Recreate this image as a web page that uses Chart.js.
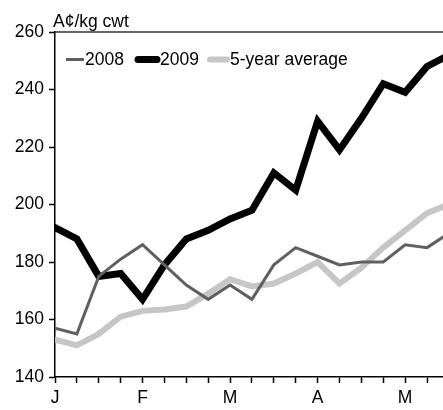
<!DOCTYPE html>
<html lang="en">
<head>
    <meta charset="UTF-8">
    <title>Cattle prices</title>
    <script src="https://cdn.jsdelivr.net/npm/chart.js@4/dist/chart.umd.min.js"></script>
    <style>
        body {
            margin: 0;
            padding: 0;
            background-color: #fff;
        }

        .chart-container {
            width: 443px;
            height: 410px;
            position: relative;
        }
    </style>
</head>
<body>

    <div class="chart-container">
        <canvas id="priceChart"></canvas>
    </div>

    <script>
        // weekly prices, first week of January onwards
        const weeks = [0, 1, 2, 3, 4, 5, 6, 7, 8, 9, 10, 11, 12, 13, 14, 15, 16, 17, 18];
        const prices2008 = [157, 155, 175, 181, 186, 179, 172, 167, 172, 167, 179, 185, 182, 179, 180, 180, 186, 185, 190];
        const prices2009 = [192, 188, 175, 176, 167, 179, 188, 191, 195, 198, 211, 205, 229, 219, 230, 242, 239, 248, 252];
        const fiveYearAvg = [153, 151, 155, 161, 163, 163.5, 164.5, 169, 174, 171.5, 172.5, 176, 180, 172.5, 178, 185, 191, 197, 200];
        const monthLabels = ['J', 'F', 'M', 'A', 'M'];
        const yTicks = [140, 160, 180, 200, 220, 240, 260];
        const unitLabel = 'A¢/kg cwt';

        const fontFamily = "'Liberation Sans', Arial, Helvetica, sans-serif";
        const fontSize = 17.5;

        function toPoints(values) {
            return values.map((v, i) => ({ x: weeks[i], y: v }));
        }

        // legend drawn inside the plot, line sample touching the text
        const insideLegend = {
            id: 'insideLegend',
            afterDraw(chart) {
                const ctx = chart.ctx;
                const area = chart.chartArea;
                const samples = [
                    { x0: 66, x1: 84 },
                    { x0: 138, x1: 157 },
                    { x0: 210, x1: 227 }
                ];
                const lineY = area.top + 27.5;
                const textY = area.top + 33;

                ctx.save();
                ctx.font = fontSize + 'px ' + fontFamily;
                ctx.fillStyle = '#000';
                ctx.textBaseline = 'alphabetic';
                chart.data.datasets.forEach((ds, i) => {
                    const s = samples[i];
                    ctx.beginPath();
                    ctx.strokeStyle = ds.borderColor;
                    ctx.lineWidth = ds.borderWidth;
                    ctx.lineCap = ds.borderCapStyle || 'butt';
                    ctx.moveTo(s.x0, lineY);
                    ctx.lineTo(s.x1, lineY);
                    ctx.stroke();
                    ctx.fillText(ds.label, s.x1 + (i === 0 ? 1 : 3), textY);
                });

                // unit label above the y axis
                ctx.fillText(unitLabel, 53, 26.5);

                // top frame line
                ctx.beginPath();
                ctx.strokeStyle = '#333';
                ctx.lineWidth = 1.5;
                ctx.lineCap = 'butt';
                ctx.moveTo(area.left, area.top);
                ctx.lineTo(chart.width, area.top);
                ctx.stroke();
                ctx.restore();
            }
        };

        const priceConfig = {
            type: 'line',
            data: {
                datasets: [
                    {
                        label: '2008',
                        data: toPoints(prices2008),
                        borderColor: '#606060',
                        borderWidth: 3,
                        pointRadius: 0,
                        tension: 0
                    },
                    {
                        label: '2009',
                        data: toPoints(prices2009),
                        borderColor: '#000000',
                        borderWidth: 7,
                        borderCapStyle: 'round',
                        pointRadius: 0,
                        tension: 0
                    },
                    {
                        label: '5-year average',
                        data: toPoints(fiveYearAvg),
                        borderColor: '#c6c6c6',
                        borderWidth: 6,
                        borderCapStyle: 'round',
                        pointRadius: 0,
                        tension: 0
                    }
                ]
            },
            options: {
                responsive: true,
                maintainAspectRatio: false,
                animation: false,
                layout: {
                    padding: { top: 32, right: 0, left: 0, bottom: 0 }
                },
                plugins: {
                    legend: { display: false },
                    tooltip: { enabled: false }
                },
                scales: {
                    x: {
                        type: 'linear',
                        min: 0,
                        max: 17.73,
                        afterFit: (scale) => { scale.height = 33; },
                        border: { display: true, color: '#000', width: 1.5 },
                        grid: {
                            drawOnChartArea: false,
                            drawTicks: true,
                            tickLength: 6,
                            color: '#000',
                            tickWidth: 1.5
                        },
                        ticks: {
                            stepSize: 1,
                            includeBounds: false,
                            autoSkip: false,
                            maxRotation: 0,
                            padding: 5,
                            color: '#000',
                            font: { family: fontFamily, size: fontSize },
                            callback: (value) => (value % 4 === 0 ? monthLabels[value / 4] : '')
                        }
                    },
                    y: {
                        min: yTicks[0],
                        max: yTicks[yTicks.length - 1],
                        afterFit: (scale) => { scale.width = 55; },
                        afterBuildTicks: (scale) => { scale.ticks = yTicks.map(v => ({ value: v })); },
                        border: { display: true, color: '#000', width: 1.5 },
                        grid: {
                            drawOnChartArea: false,
                            drawTicks: true,
                            tickLength: 6,
                            color: '#000',
                            tickWidth: 1.5
                        },
                        ticks: {
                            padding: 5,
                            color: '#000',
                            font: { family: fontFamily, size: fontSize }
                        }
                    }
                }
            },
            plugins: [insideLegend]
        };

        const priceCtx = document.getElementById('priceChart').getContext('2d');
        const priceChart = new Chart(priceCtx, priceConfig);
    </script>

</body>
</html>
